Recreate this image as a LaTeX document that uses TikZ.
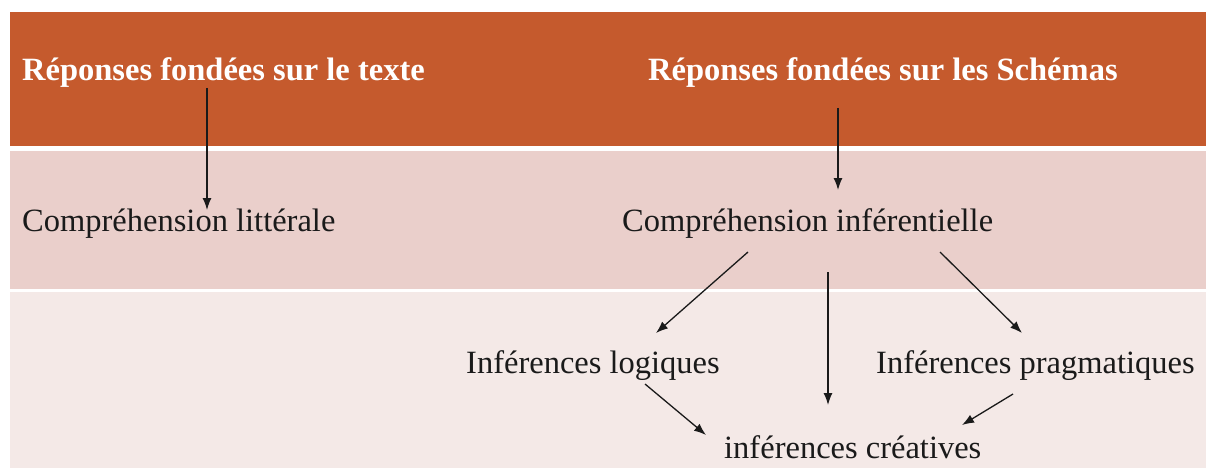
\documentclass[tikz,border=0pt]{standalone}
\usepackage{fontspec}
\setmainfont{Liberation Serif}
\usetikzlibrary{arrows.meta}
\definecolor{hdr}{HTML}{C55A2D}
\definecolor{rowa}{HTML}{EACFCB}
\definecolor{rowb}{HTML}{F4E9E7}
\definecolor{ink}{HTML}{1A1A1A}
\tikzset{
  lbl/.style={anchor=base west, inner sep=0pt, text=ink, font=\fontsize{32.5}{36}\selectfont},
  hlbl/.style={lbl, text=white, font=\fontsize{32.5}{36}\selectfont\bfseries},
  arr/.style={draw=ink, line width=1.3pt, -{Latex[length=12pt,width=9pt]}}
}
\begin{document}
\begin{tikzpicture}[x=1pt,y=-1pt]
\useasboundingbox (0,0) rectangle (1206,468);
\fill[white] (0,0) rectangle (1206,468);
% bands
\fill[hdr] (10,12) rectangle (1206,146);
\fill[rowa] (10,151) rectangle (1206,289);
\fill[rowb] (10,292) rectangle (1206,468);
% texts
\node[hlbl] (h1) at (22,81) {Réponses fondées sur le texte};
\node[hlbl] (h2) at (648,81) {Réponses fondées sur les\ Schémas};
\node[lbl] (c1) at (22,231) {Compréhension littérale};
\node[lbl] (c2) at (622,231) {Compréhension inférentielle};
\node[lbl] (il) at (466,373) {Inférences logiques};
\node[lbl] (ip) at (876,373) {Inférences pragmatiques};
\node[lbl] (ic) at (724,458) {inférences créatives};
% arrow end points
\coordinate (a1s) at (207,88);   \coordinate (a1e) at (207,210);
\coordinate (a2s) at (838,108);  \coordinate (a2e) at (838,190);
\coordinate (a3s) at (748,252);  \coordinate (a3e) at (656,333);
\coordinate (a4s) at (828,272);  \coordinate (a4e) at (828,405);
\coordinate (a5s) at (940,252);  \coordinate (a5e) at (1022,333);
\coordinate (a6s) at (645,384);  \coordinate (a6e) at (706,435);
\coordinate (a7s) at (1013,394); \coordinate (a7e) at (962,425);
\draw[arr] (a1s) -- (a1e);
\draw[arr] (a2s) -- (a2e);
\draw[arr] (a3s) -- (a3e);
\draw[arr] (a4s) -- (a4e);
\draw[arr] (a5s) -- (a5e);
\draw[arr] (a6s) -- (a6e);
\draw[arr] (a7s) -- (a7e);
\end{tikzpicture}
\end{document}
